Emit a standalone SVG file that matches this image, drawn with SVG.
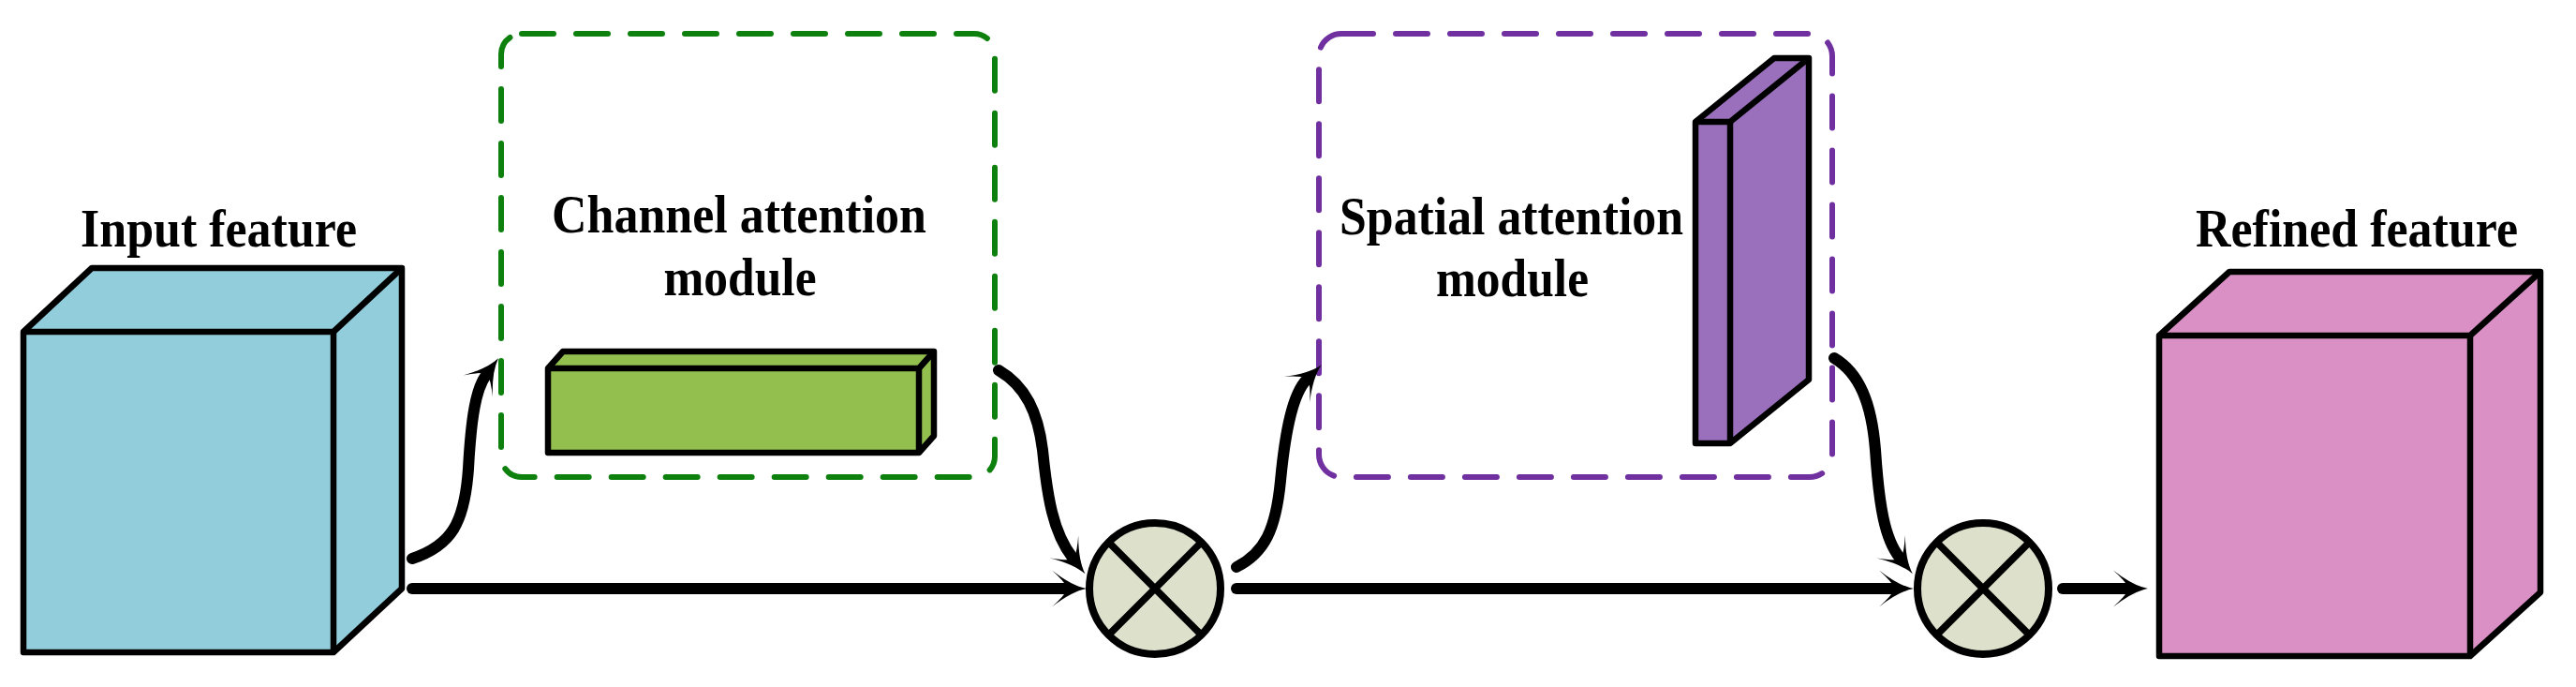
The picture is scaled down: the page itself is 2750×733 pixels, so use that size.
<svg xmlns="http://www.w3.org/2000/svg" width="2750" height="733" viewBox="0 0 2750 733">
  <style>
    .lbl { font-family: "Liberation Serif", "Times New Roman", serif; font-weight: bold; font-size: 56px; fill: #000; text-anchor: middle; }
    .edge { stroke: #000; stroke-width: 6.5; stroke-linejoin: round; }
    .dash { fill: none; stroke-width: 6; stroke-linecap: round; stroke-dasharray: 34 24; }
    .conn { fill: none; stroke: #000; stroke-width: 12; stroke-linecap: round; }
    .mul { fill: #dde1cc; stroke: #000; stroke-width: 8; }
    .cross { stroke: #000; stroke-width: 7.5; }
  </style>
  <defs>
    <marker id="arr" viewBox="0 -22 44 44" markerWidth="44" markerHeight="44" refX="15" refY="0" orient="auto" markerUnits="userSpaceOnUse" overflow="visible">
      <path d="M37,0 Q21,-3 0,-19.5 Q13,-8 17,0 Q13,8 0,19.5 Q21,3 37,0 Z" fill="#000"/>
    </marker>
  </defs>
  <rect width="2750" height="733" fill="#fff"/>

  <g id="input-feature">
    <polygon class="edge" fill="#92cddc" points="25,354 98,286 429,286 429,628 356,696 25,696"/>
    <polyline class="edge" fill="none" points="25,354 356,354 429,286"/>
    <line class="edge" x1="356" y1="354" x2="356" y2="696"/>
    <text class="lbl" x="233.5" y="263" textLength="295" lengthAdjust="spacingAndGlyphs">Input feature</text>
  </g>

  <g id="channel-attention-module">
    <rect class="dash" x="535" y="36" width="527" height="473" rx="22" stroke="#0d800d"/>
    <text class="lbl" x="789" y="248" textLength="400" lengthAdjust="spacingAndGlyphs">Channel attention</text>
    <text class="lbl" x="790" y="315" textLength="163" lengthAdjust="spacingAndGlyphs">module</text>
    <polygon class="edge" fill="#93bf4f" points="585,393 601,375 997,375 997,465 981,483 585,483"/>
    <polyline class="edge" fill="none" points="585,393 981,393 997,375"/>
    <line class="edge" x1="981" y1="393" x2="981" y2="483"/>
  </g>

  <g id="mul-1">
    <circle class="mul" cx="1233" cy="628" r="70"/>
    <line class="cross" x1="1183.5" y1="578.5" x2="1282.5" y2="677.5"/>
    <line class="cross" x1="1282.5" y1="578.5" x2="1183.5" y2="677.5"/>
  </g>

  <g id="spatial-attention-module">
    <rect class="dash" x="1408" y="36" width="548" height="473" rx="24" stroke="#7030a0"/>
    <text class="lbl" x="1613.5" y="250" textLength="367" lengthAdjust="spacingAndGlyphs">Spatial attention</text>
    <text class="lbl" x="1614.5" y="316" textLength="163" lengthAdjust="spacingAndGlyphs">module</text>
    <polygon class="edge" fill="#9a70bc" points="1810,130 1894,62 1931,62 1931,405 1847,473 1810,473"/>
    <polyline class="edge" fill="none" points="1810,130 1847,130 1931,62"/>
    <line class="edge" x1="1847" y1="130" x2="1847" y2="473"/>
  </g>

  <g id="mul-2">
    <circle class="mul" cx="2117" cy="628" r="70"/>
    <line class="cross" x1="2067.5" y1="578.5" x2="2166.5" y2="677.5"/>
    <line class="cross" x1="2166.5" y1="578.5" x2="2067.5" y2="677.5"/>
  </g>

  <g id="refined-feature">
    <polygon class="edge" fill="#da90c4" points="2305,358 2380,290 2712,290 2712,632 2637,700 2305,700"/>
    <polyline class="edge" fill="none" points="2305,358 2637,358 2712,290"/>
    <line class="edge" x1="2637" y1="358" x2="2637" y2="700"/>
    <text class="lbl" x="2516" y="263" textLength="344" lengthAdjust="spacingAndGlyphs">Refined feature</text>
  </g>

  <g id="connectors">
    <path class="conn" d="M440,596 C482,582 496,558 500,500 C503,445 508,415 519,400" marker-end="url(#arr)"/>
    <path class="conn" d="M440,628 L1138,628" marker-end="url(#arr)"/>
    <path class="conn" d="M1066,395 C1095,412 1108,440 1113,480 C1118,530 1124,568 1145,595" marker-end="url(#arr)"/>
    <path class="conn" d="M1320,605 C1350,590 1362,565 1367,513 C1372,460 1380,420 1395,405" marker-end="url(#arr)"/>
    <path class="conn" d="M1320,628 L2021,628" marker-end="url(#arr)"/>
    <path class="conn" d="M1958,382 C1985,398 1998,430 2002,480 C2006,540 2012,575 2028,595" marker-end="url(#arr)"/>
    <path class="conn" d="M2202,628 L2271,628" marker-end="url(#arr)"/>
  </g>
</svg>
